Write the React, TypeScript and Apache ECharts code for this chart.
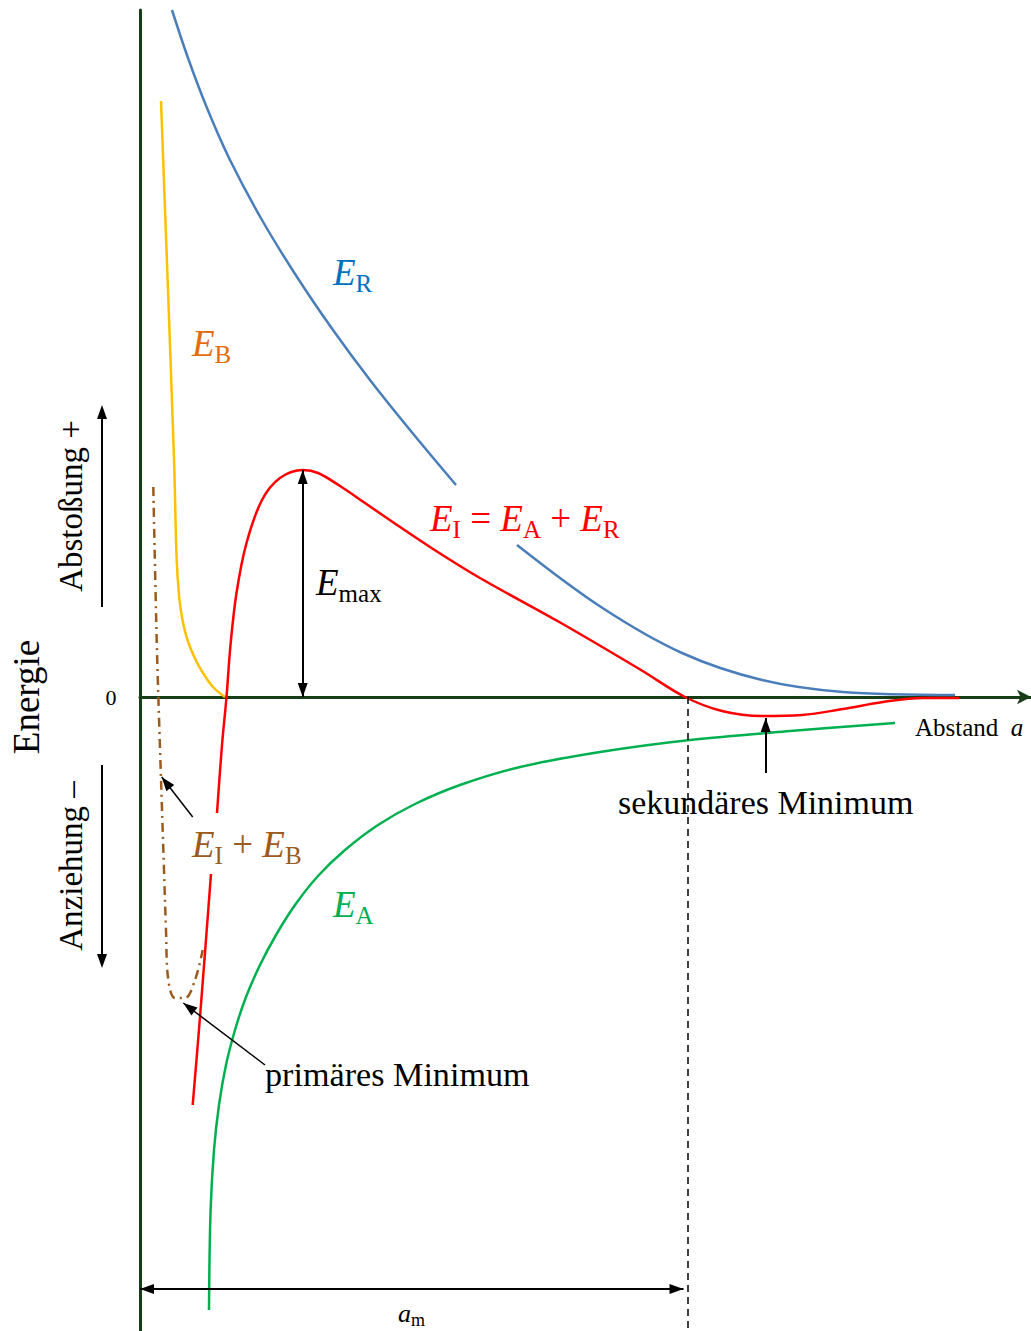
import { useEffect, useRef } from 'react';
import * as echarts from 'echarts';

// Plot units: x = distance from the energy axis, y = energy (0 on the distance axis).
const X_MAX = 891;
const Y_MIN = -634;
const Y_MAX = 687;

// Repulsion energy E_R (drawn in two pieces around its label)
const erNear = [[32, 687], [48, 639], [67, 589], [90, 537], [122, 477], [157, 420], [193, 367], [230, 317], [270, 267], [316, 212]];
const erFar = [[377, 152], [461, 90], [542, 44], [622, 17], [703, 5], [815, 2]];

// Born repulsion E_B
const eb = [[21, 596], [34, 239], [36.5, 142], [39, 102], [42.5, 77], [46, 62], [50, 50], [56.7, 35], [63, 24], [73, 10], [85, 0]];

// Total interaction energy E_I = E_A + E_R (broken at the E_I + E_B label)
const eiNear = [[52.7, -408], [60, -320], [71, -177]];
const eiFar = [[77, -116], [82, -48], [86.5, 0], [90.5, 52], [96.5, 104], [106.5, 154], [122, 197], [140, 219], [163, 227], [178, 224], [200, 211], [225, 194], [257, 172], [290, 150], [340, 119], [421, 74], [501, 27], [545, 0], [582, -14], [622, -19], [662, -18], [703, -12], [743, -5], [783, -1], [819, -1]];

// Attraction energy E_A
const ea = [[69, -613], [70.5, -516], [74, -453], [79, -408], [86, -368], [95, -333], [106, -300], [120, -268], [136, -238], [155, -208], [178, -179], [205, -153], [238, -128], [275, -107], [320, -88], [380, -70], [460, -55], [550, -43], [650, -34], [755, -26]];

// E_I + E_B
const eib = [[13.3, 210], [16.7, 57], [19.5, -36], [21.7, -103], [24, -173], [26, -233], [28.3, -283], [35, -301], [45, -301], [55, -283], [62.7, -253]];

// Annotation lines: [from, to]
const eMaxSpan = [[162.7, 227], [162.7, 0]];
const secondaryPointer = [[625.7, -76], [625.7, -21]];
const sumPointer = [[52.7, -120], [21.7, -80]];
const primaryPointer = [[125, -368], [43.3, -306]];
const amSpan = [[0, -592], [543.5, -592]];
const amGuide = [[547.6, 0], [547.6, Y_MIN]];

const FONT_NAME = 'Liberation Serif';
const FONT = '"Liberation Serif", "Times New Roman", Times, serif';
const AXIS_COLOR = '#173d17';

type Part = [string, 'i' | 's' | 'n'];

let measureCtx: CanvasRenderingContext2D | null = null;
function textWidth(text: string, size: number, italic: boolean) {
  if (!measureCtx) measureCtx = document.createElement('canvas').getContext('2d');
  measureCtx!.font = `${italic ? 'italic ' : ''}${size}px "${FONT_NAME}"`;
  return measureCtx!.measureText(text).width;
}

// Formula label: italic symbols, lowered subscripts, upright operators
function formula(
  x: number,
  y: number,
  parts: Part[],
  color: string,
  sizes = { main: 37, sub: 25, drop: 11 },
) {
  let cx = x;
  const children: any[] = [];
  for (const [t, k] of parts) {
    const size = k === 's' ? sizes.sub : sizes.main;
    const italic = k === 'i';
    children.push({
      type: 'text',
      x: cx,
      y: k === 's' ? y + sizes.drop : y,
      silent: true,
      style: {
        text: t,
        fontFamily: FONT,
        fontSize: size,
        fontStyle: italic ? 'italic' : 'normal',
        fill: color,
        align: 'left',
        verticalAlign: 'middle',
      },
    });
    cx += textWidth(t, size, italic);
  }
  return { type: 'group', silent: true, z: 100, children };
}

function plainText(x: number, y: number, text: string, size: number, opts: any = {}) {
  const { rotation = 0, align = 'left', scaleX = 1, color = '#000' } = opts;
  return {
    type: 'text',
    x,
    y,
    rotation,
    scaleX,
    z: 100,
    silent: true,
    style: { text, fontFamily: FONT, fontSize: size, fill: color, align, verticalAlign: 'middle' },
  };
}

function vArrow(x: number, y1: number, y2: number) {
  const dir = y2 < y1 ? -1 : 1;
  return {
    type: 'group',
    silent: true,
    children: [
      { type: 'line', shape: { x1: x, y1, x2: x, y2: y2 - dir * 12 }, style: { stroke: '#000', lineWidth: 2 } },
      { type: 'polygon', shape: { points: [[x, y2], [x - 5, y2 - dir * 14], [x + 5, y2 - dir * 14]] }, style: { fill: '#000' } },
    ],
  };
}

export default function App() {
  const ref = useRef<HTMLDivElement>(null);

  useEffect(() => {
    const chart = echarts.init(ref.current!, null, { renderer: 'svg' });

    const curve = (name: string, data: number[][], color: string, extra: any = {}) => ({
      type: 'line',
      name,
      data,
      symbol: 'none',
      showSymbol: false,
      smooth: 0.35,
      silent: true,
      lineStyle: { color, width: 2.5 },
      ...extra,
    });

    const end = (p: number[], arrow: boolean, lw: number) => ({
      coord: p,
      symbol: arrow ? 'triangle' : 'none',
      symbolSize: [10, 14],
      symbolOffset: [0, 7],
      lineStyle: { color: '#000', width: lw, type: 'solid' },
    });
    const mark = (seg: number[][], a: boolean, b: boolean, lw = 2) => [end(seg[0], a, lw), end(seg[1], b, lw)];
    const guide = [
      { coord: amGuide[0], symbol: 'none', lineStyle: { color: '#000', width: 1.5, type: [7, 5] } },
      { coord: amGuide[1], symbol: 'none' },
    ];

    chart.setOption({
      animation: false,
      backgroundColor: '#fff',
      grid: { left: 140, right: 0, top: 10, bottom: 0 },
      xAxis: {
        type: 'value',
        min: 0,
        max: X_MAX,
        axisLine: {
          show: true,
          onZero: true,
          symbol: ['none', 'arrow'],
          symbolSize: [11, 14],
          lineStyle: { color: AXIS_COLOR, width: 3 },
        },
        axisTick: { show: false },
        axisLabel: { show: false },
        splitLine: { show: false },
      },
      yAxis: {
        type: 'value',
        min: Y_MIN,
        max: Y_MAX,
        axisLine: { show: true, onZero: false, lineStyle: { color: AXIS_COLOR, width: 3 } },
        axisTick: { show: false },
        axisLabel: { show: false },
        splitLine: { show: false },
      },
      series: [
        curve('E_R near', erNear, '#4a7ebb'),
        curve('E_R far', erFar, '#4a7ebb'),
        curve('E_B', eb, '#ffc000'),
        curve('E_A', ea, '#00b050'),
        curve('E_I + E_B', eib, '#9c5a1e', { lineStyle: { color: '#9c5a1e', width: 2.5, type: [9, 5, 2, 5] } }),
        curve('E_I near', eiNear, '#ff0000'),
        curve('E_I far', eiFar, '#ff0000', {
          markLine: {
            silent: true,
            animation: false,
            label: { show: false },
            emphasis: { disabled: true },
            data: [
              mark(eMaxSpan, true, true),
              mark(secondaryPointer, false, true),
              mark(sumPointer, false, true, 1.5),
              mark(primaryPointer, false, true, 1.5),
              mark(amSpan, true, true),
              guide,
            ],
          },
        }),
      ],
      graphic: [
        formula(333, 272, [['E', 'i'], ['R', 's']], '#0070c0'),
        formula(192, 343, [['E', 'i'], ['B', 's']], '#e46c0a'),
        formula(430, 518, [['E', 'i'], ['I', 's'], [' = ', 'n'], ['E', 'i'], ['A', 's'], [' + ', 'n'], ['E', 'i'], ['R', 's']], '#ff0000'),
        formula(316, 582, [['E', 'i'], ['max', 's']], '#000000'),
        formula(192, 844, [['E', 'i'], ['I', 's'], [' + ', 'n'], ['E', 'i'], ['B', 's']], '#9c5a1e'),
        formula(333, 904, [['E', 'i'], ['A', 's']], '#00b050'),
        formula(398, 1313, [['a', 'i'], ['m', 's']], '#000000', { main: 26, sub: 18, drop: 7 }),
        formula(915, 727, [['Abstand  ', 'n'], ['a', 'i']], '#000000', { main: 25, sub: 18, drop: 0 }),
        plainText(618, 803, 'sekundäres Minimum', 33, { scaleX: 1.03 }),
        plainText(265, 1075, 'primäres Minimum', 33, { scaleX: 1.035 }),
        plainText(111, 697, '0', 22, { align: 'center' }),
        plainText(26, 697, 'Energie', 37, { rotation: Math.PI / 2, align: 'center' }),
        plainText(71, 506, 'Abstoßung +', 33, { rotation: Math.PI / 2, align: 'center' }),
        plainText(71, 866, 'Anziehung –', 33, { rotation: Math.PI / 2, align: 'center' }),
        vArrow(102, 607, 405),
        vArrow(102, 765, 968),
      ],
    });

    return () => chart.dispose();
  }, []);

  return (
    <div
      ref={ref}
      style={{ position: 'absolute', left: 0, top: 0, width: 1031, height: 1331, background: '#fff' }}
    />
  );
}
